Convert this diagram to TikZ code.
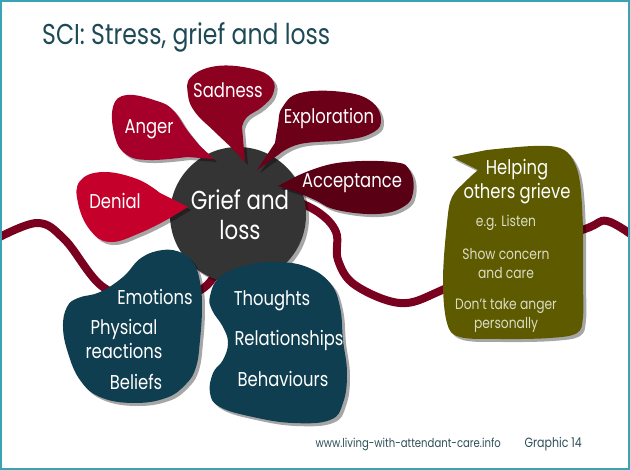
\documentclass[tikz,border=0pt]{standalone}
\usepackage{fontspec}
\setmainfont{Poppins}[FakeStretch=0.82]
\usetikzlibrary{shadows}
\definecolor{framecol}{HTML}{3BA3B3}
\definecolor{titlecol}{HTML}{1D4A56}
\definecolor{wave}{HTML}{7A0020}
\definecolor{cDenial}{HTML}{C4002B}
\definecolor{cAnger}{HTML}{A6002A}
\definecolor{cSad}{HTML}{8C0020}
\definecolor{cExpl}{HTML}{6C0018}
\definecolor{cAcc}{HTML}{5A0014}
\definecolor{core}{HTML}{343434}
\definecolor{blobcol}{HTML}{0E3E4F}
\definecolor{olive}{HTML}{5D5A00}
\definecolor{soft}{HTML}{DCDCC4}
\definecolor{footcol}{HTML}{2D4F5A}
\begin{document}
\begin{tikzpicture}[x=1pt,y=-1pt,
  shade/.style={drop shadow={shadow xshift=3pt,shadow yshift=-3pt,opacity=0.35,fill=black}},
  lbl/.style={text=white,inner sep=0pt,align=center,font=\fontsize{20}{24}\selectfont},
  small/.style={text=soft,inner sep=0pt,align=center,font=\fontsize{15}{19}\selectfont},
  foot/.style={text=footcol,inner sep=0pt,font=\fontsize{12.3}{15}\selectfont}]
\useasboundingbox (0,0) rectangle (630,470);
\fill[white] (0,0) rectangle (630,470);
% wavy line
\draw[wave,line width=8pt,line cap=round] plot[smooth,tension=0.6] coordinates
  {(-6,240) (37,223) (65,240) (103,287) (150,300) (205,287) (238,230)};
\draw[wave,line width=8pt,line cap=round] plot[smooth,tension=0.6] coordinates
  {(285,196) (318,212) (336,232) (338,260) (355,285) (400,303) (440,291) (510,255) (585,229) (607,221) (636,238)};
% core
\fill[core,shade] (238,215) circle[radius=68pt];
% petals
\fill[cDenial,shade] (188,207) -- plot[smooth,tension=0.7] coordinates
  {(160,193) (137,179) (103,172) (80,181) (78,203) (90,230) (110,242) (140,233) (170,218)} -- cycle;
\fill[cAnger,shade] (214,159) -- plot[smooth,tension=0.7] coordinates
  {(200,146) (187,130) (173,110) (157,101) (127,95) (113,107) (115,137) (127,155) (150,160) (187,157)} -- cycle;
\fill[cSad,shade] (245,162) -- plot[smooth,tension=0.7] coordinates
  {(242,127) (247,117) (262,107) (273,94) (272,79) (253,69) (217,66) (191,77) (188,95) (195,112) (213,130) (232,148)} -- cycle;
\fill[cExpl,shade] (257,170) -- plot[smooth,tension=0.7] coordinates
  {(275,143) (278,125) (282,108) (300,93) (343,92) (372,102) (381,122) (370,134) (345,140) (300,144) (278,155)} -- cycle;
\fill[cAcc,shade] (278,186) -- plot[smooth,tension=0.7] coordinates
  {(297,176) (337,163) (393,162) (410,171) (413,193) (403,207) (377,214) (337,210) (315,200) (297,192)} -- cycle;
% blobs
\fill[blobcol,shade] plot[smooth cycle,tension=0.7] coordinates
  {(163,250) (182,253) (194,264) (200,282) (202,307) (200,340) (196,367) (186,384) (166,398) (133,403) (100,397) (80,380) (68,353) (63,327) (67,307) (78,298) (100,292) (123,277) (141,258)};
\fill[blobcol,shade] plot[smooth cycle,tension=0.7] coordinates
  {(210,296) (220,277) (247,265) (277,262) (307,267) (330,283) (340,307) (343,340) (347,373) (343,403) (330,420) (293,423) (253,417) (220,407) (210,393) (213,373) (223,360) (228,343) (223,327) (212,310)};
% olive box
\fill[olive,shade] (452,157) -- plot[smooth,tension=0.6] coordinates
  {(487,150) (533,146) (560,148) (573,160) (580,183) (583,230) (583,280) (583,317) (577,333) (550,338) (500,339) (460,337) (447,323) (443,280) (447,223) (452,197) (466,181) (478,170)} -- cycle;
% frame
\draw[framecol,line width=2pt] (1,1) rectangle (629,469);
% title
\node[text=titlecol,inner sep=0pt,anchor=base west,font=\fontsize{28.7}{32}\selectfont] (title) at (42,45) {SCI: Stress, grief and loss};
% labels
\node[lbl] (denial) at (115,201) {Denial};
\node[lbl] (anger) at (149,129) {Anger};
\node[lbl] (sadness) at (228,90) {Sadness};
\node[lbl] (exploration) at (329,118) {Exploration};
\node[lbl] (acceptance) at (352,183) {Acceptance};
\node[lbl,font=\fontsize{26}{30}\selectfont] (grief) at (240,215) {Grief and\\loss};
\node[lbl] (emotions) at (155,297) {Emotions};
\node[lbl] (physical) at (124,339) {Physical\\reactions};
\node[lbl] (beliefs) at (136,382) {Beliefs};
\node[lbl] (thoughts) at (272,301) {Thoughts};
\node[lbl] (relationships) at (289,340) {Relationships};
\node[lbl] (behaviours) at (283,379) {Behaviours};
\node[lbl] (helping) at (517,182) {Helping\\others grieve};
\node[small] (listen) at (506,223) {e.g. Listen};
\node[small] (concern) at (506,264) {Show concern\\and care};
\node[small] (anger2) at (506,315) {Don’t take anger\\personally};
% footer
\node[foot,anchor=base east] (url) at (501,448) {www.living-with-attendant-care.info};
\node[foot,anchor=base east,font=\fontsize{13.4}{15}\selectfont] (graphic) at (582,448) {Graphic 14};
\end{tikzpicture}
\end{document}
